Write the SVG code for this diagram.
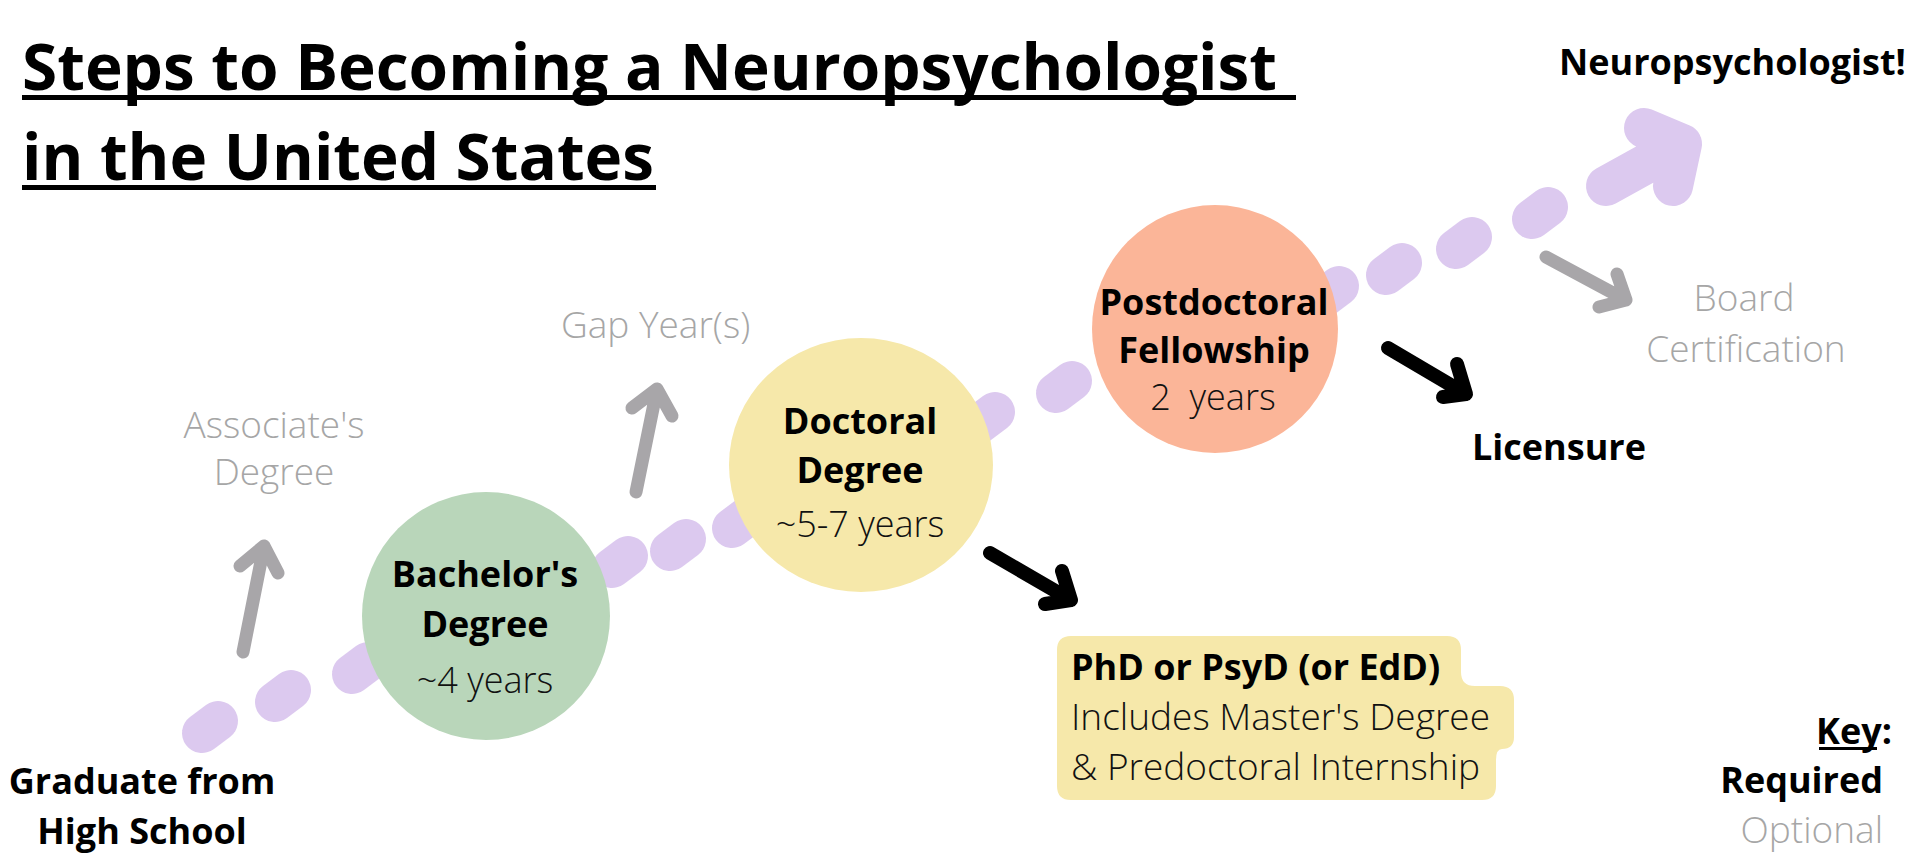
<svg xmlns="http://www.w3.org/2000/svg" width="1920" height="864" viewBox="0 0 1920 864">
<style>
text{font-family:"Open Sans","Liberation Sans",sans-serif;}
.b{font-weight:700;font-size:36px;fill:#000;}
.l{font-weight:300;font-size:36px;fill:#111;}
.g{font-weight:300;font-size:37px;fill:#a6a6a6;}
.t{font-weight:700;font-size:65px;fill:#000;}
.c{text-anchor:middle;}
.r{text-anchor:end;}
.blob{stroke:#dcc9ef;stroke-width:40;stroke-linecap:round;fill:none;}
.ga{stroke:#a8a6a9;stroke-width:13;stroke-linecap:round;stroke-linejoin:round;fill:none;}
.ka{stroke:#000;stroke-width:14;stroke-linecap:round;stroke-linejoin:round;fill:none;}
</style>
<rect width="1920" height="864" fill="#fff"/>
<g id="title">
<text class="t" x="22" y="90" textLength="1255" lengthAdjust="spacingAndGlyphs">Steps to Becoming a Neuropsychologist</text>
<rect x="22" y="95" width="1274" height="5" fill="#000"/>
<text class="t" x="22" y="180" textLength="632" lengthAdjust="spacingAndGlyphs">in the United States</text>
<rect x="22" y="185" width="634" height="5" fill="#000"/>
</g>
<g id="connectors">
<g id="path-dashes">
<line class="blob" x1="202" y1="733" x2="218" y2="721"/>
<line class="blob" x1="275" y1="702" x2="291" y2="690"/>
<line class="blob" x1="352" y1="674" x2="368" y2="662"/>
<line class="blob" x1="612" y1="568" x2="628" y2="556"/>
<line class="blob" x1="670" y1="551" x2="686" y2="539"/>
<line class="blob" x1="732" y1="528" x2="748" y2="516"/>
<line class="blob" x1="979" y1="424" x2="995" y2="412"/>
<line class="blob" x1="1056" y1="393" x2="1072" y2="381"/>
<line class="blob" x1="1323" y1="298" x2="1339" y2="286"/>
<line class="blob" x1="1386" y1="275" x2="1402" y2="263"/>
<line class="blob" x1="1456" y1="249" x2="1472" y2="237"/>
<line class="blob" x1="1532" y1="219" x2="1548" y2="207"/>
<path class="blob" d="M1606,186 L1682,144 M1644,128 L1682,144 L1673,186" stroke-width="42" stroke-linejoin="round"/>
</g>
<g id="optional-arrows">
<path class="ga" d="M243,652 L264,546 M240,566 L264,546 L278,573"/>
<path class="ga" d="M636,492 L657,389 M632,408 L657,389 L672,416"/>
<path class="ga" d="M1546,257 L1626,300 M1617,274 L1626,300 L1599,307"/>
</g>
<g id="required-arrows">
<path class="ka" d="M990,553 L1071,600 M1062,571 L1071,600 L1045,604"/>
<path class="ka" d="M1388,348 L1466,394 M1457,364 L1466,394 L1443,397"/>
</g>
</g>
<g id="node-highschool">
<text class="b c" x="142" y="794">Graduate from</text>
<text class="b c" x="142" y="844">High School</text>
</g>
<g id="node-associate">
<text class="g c" x="274" y="438">Associate's</text>
<text class="g c" x="274" y="485">Degree</text>
</g>
<g id="node-bachelor">
<ellipse cx="486" cy="616" rx="124" ry="124" fill="#b9d6ba"/>
<text class="b c" x="485" y="587">Bachelor's</text>
<text class="b c" x="485" y="637">Degree</text>
<text class="l c" x="485" y="693">~4 years</text>
</g>
<g id="node-gap">
<text class="g" x="561" y="338">Gap Year(s)</text>
</g>
<g id="node-doctoral">
<ellipse cx="861" cy="465" rx="132" ry="127" fill="#f6e8aa"/>
<text class="b c" x="860" y="434">Doctoral</text>
<text class="b c" x="860" y="483">Degree</text>
<text class="l c" x="860" y="537">~5-7 years</text>
</g>
<g id="node-phd">
<path d="M1071,636 H1447 Q1461,636 1461,650 V672 Q1461,686 1475,686 H1500 Q1514,686 1514,700 V737 Q1514,749 1502,749 Q1496,749 1496,760 V786 Q1496,800 1482,800 H1071 Q1057,800 1057,786 V650 Q1057,636 1071,636 Z" fill="#f6e8aa"/>
<text class="b" x="1071" y="680">PhD or PsyD (or EdD)</text>
<text class="l" x="1071" y="730" textLength="419" lengthAdjust="spacingAndGlyphs">Includes Master's Degree</text>
<text class="l" x="1071" y="780" textLength="409" lengthAdjust="spacingAndGlyphs">&amp; Predoctoral Internship</text>
</g>
<g id="node-postdoc">
<ellipse cx="1215" cy="329" rx="123" ry="124" fill="#fbb598"/>
<text class="b c" x="1214" y="315">Postdoctoral</text>
<text class="b c" x="1214" y="363">Fellowship</text>
<text class="l c" x="1213" y="410" xml:space="preserve">2  years</text>
</g>
<g id="node-licensure">
<text class="b" x="1472" y="460">Licensure</text>
</g>
<g id="node-board">
<text class="g c" x="1744" y="311">Board</text>
<text class="g c" x="1746" y="362">Certification</text>
</g>
<g id="node-neuropsychologist">
<text class="b" x="1559" y="75">Neuropsychologist!</text>
</g>
<g id="key">
<text class="b r" x="1892" y="744">Key:</text>
<rect x="1819" y="747" width="58" height="3" fill="#000"/>
<text class="b r" x="1883" y="793">Required</text>
<text class="g r" x="1883" y="843">Optional</text>
</g>
</svg>
